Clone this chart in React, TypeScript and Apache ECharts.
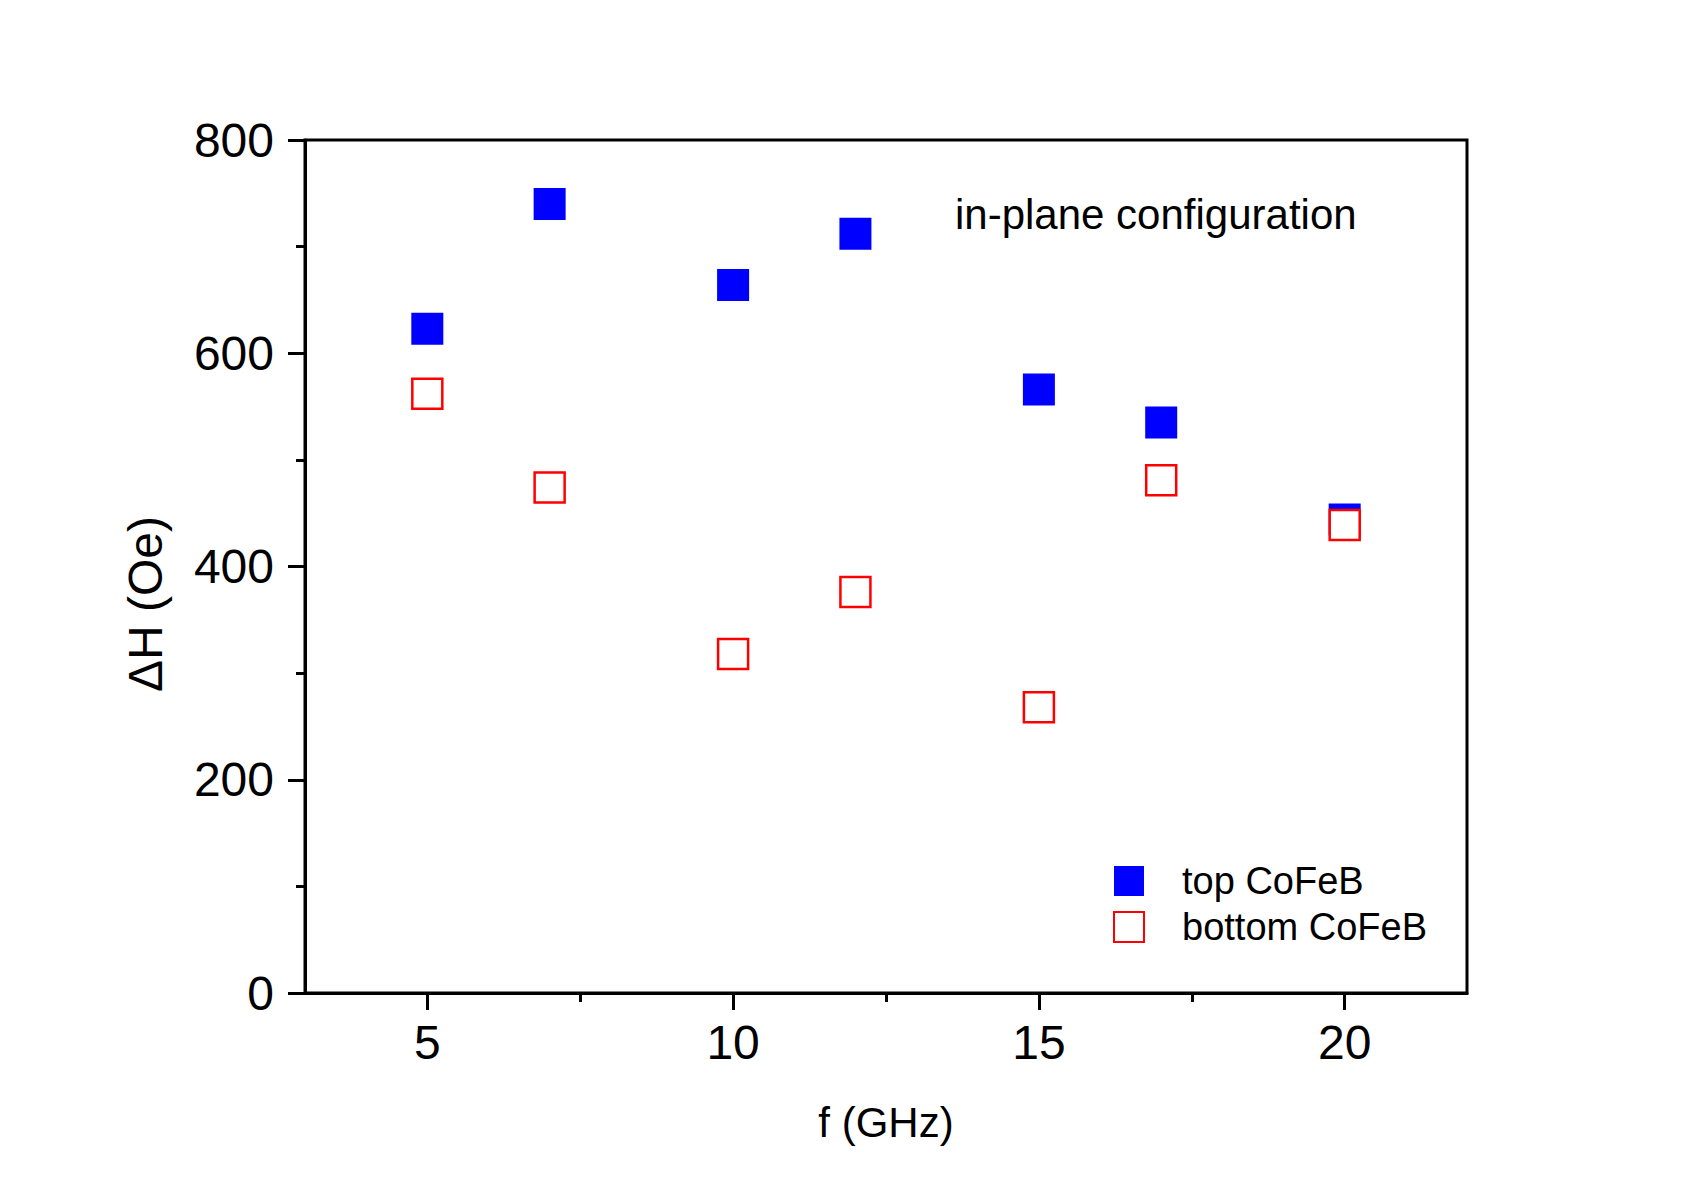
import React, { useEffect, useRef } from "react";
import * as echarts from "echarts";

const freqs = [5, 7, 10, 12, 15, 17, 20];
const topCoFeB = [623, 740, 664, 712, 566, 535, 444];
const bottomCoFeB = [562, 474, 318, 376, 268, 481, 439];
const xMajorTicks = [5, 10, 15, 20];
const xMinorTicks = [7.5, 12.5, 17.5];

const FONT = "'Liberation Sans', Arial, Helvetica, sans-serif";

export default function App() {
  const ref = useRef<HTMLDivElement>(null);
  useEffect(() => {
    if (!ref.current) return;
    const chart = echarts.init(ref.current, null, { renderer: "svg" });
    const axisLine = { show: true, onZero: false, lineStyle: { color: "#000", width: 3 } };
    chart.setOption({
      animation: false,
      backgroundColor: "#fff",
      textStyle: { fontFamily: FONT },
      grid: {
        left: 305,
        top: 140,
        right: 238,
        bottom: 199,
        show: true,
        borderColor: "#000",
        borderWidth: 3,
        backgroundColor: "transparent",
      },
      legend: {
        orient: "vertical",
        left: 1108,
        top: 857,
        itemWidth: 30,
        itemHeight: 30,
        itemGap: 8,
        textStyle: { fontSize: 38, color: "#000", fontFamily: FONT, padding: [0, 0, 0, 33] },
        data: ["top CoFeB", "bottom CoFeB"],
      },
      xAxis: [
        {
          type: "value",
          min: 3,
          max: 22,
          position: "bottom",
          name: "f (GHz)",
          nameLocation: "middle",
          nameGap: 108,
          nameTextStyle: { fontSize: 42, color: "#000", fontFamily: FONT },
          axisLine,
          axisTick: {
            show: true,
            customValues: xMajorTicks,
            length: 17,
            lineStyle: { color: "#000", width: 3 },
          },
          axisLabel: {
            customValues: xMajorTicks,
            margin: 25,
            fontSize: 48,
            color: "#000",
            fontFamily: FONT,
          },
          splitLine: { show: false },
        },
        {
          type: "value",
          min: 3,
          max: 22,
          position: "bottom",
          axisLine: { show: false },
          axisTick: {
            show: true,
            customValues: xMinorTicks,
            length: 9,
            lineStyle: { color: "#000", width: 3 },
          },
          axisLabel: { show: false },
          splitLine: { show: false },
        },
      ],
      yAxis: {
        type: "value",
        min: 0,
        max: 800,
        interval: 200,
        axisLine,
        axisTick: { show: true, length: 17, lineStyle: { color: "#000", width: 3 } },
        minorTick: { show: true, splitNumber: 2, length: 9, lineStyle: { color: "#000", width: 3 } },
        axisLabel: { margin: 31, fontSize: 48, color: "#000", fontFamily: FONT },
        splitLine: { show: false },
        minorSplitLine: { show: false },
      },
      graphic: [
        {
          type: "text",
          left: 955,
          top: 193,
          style: {
            text: "in-plane configuration",
            fontSize: 42,
            fontFamily: FONT,
            fill: "#000",
          },
        },
        {
          type: "text",
          x: 145,
          y: 604,
          rotation: Math.PI / 2,
          style: {
            text: "ΔH (Oe)",
            fontSize: 48,
            fontFamily: FONT,
            fill: "#000",
            align: "center",
            verticalAlign: "middle",
          },
        },
      ],
      series: [
        {
          name: "top CoFeB",
          type: "scatter",
          xAxisIndex: 0,
          symbol: "rect",
          symbolSize: 32,
          itemStyle: { color: "#0000ff", opacity: 1 },
          data: freqs.map((f, i) => [f, topCoFeB[i]]),
          z: 2,
        },
        {
          name: "bottom CoFeB",
          type: "scatter",
          xAxisIndex: 0,
          symbol: "rect",
          symbolSize: 30,
          itemStyle: { color: "#ffffff", borderColor: "#ff0000", borderWidth: 2.5, opacity: 1 },
          data: freqs.map((f, i) => [f, bottomCoFeB[i]]),
          z: 3,
        },
      ],
    });
    return () => chart.dispose();
  }, []);
  return (
    <div
      ref={ref}
      style={{ position: "fixed", left: 0, top: 0, width: 1705, height: 1192, background: "#fff" }}
    />
  );
}
